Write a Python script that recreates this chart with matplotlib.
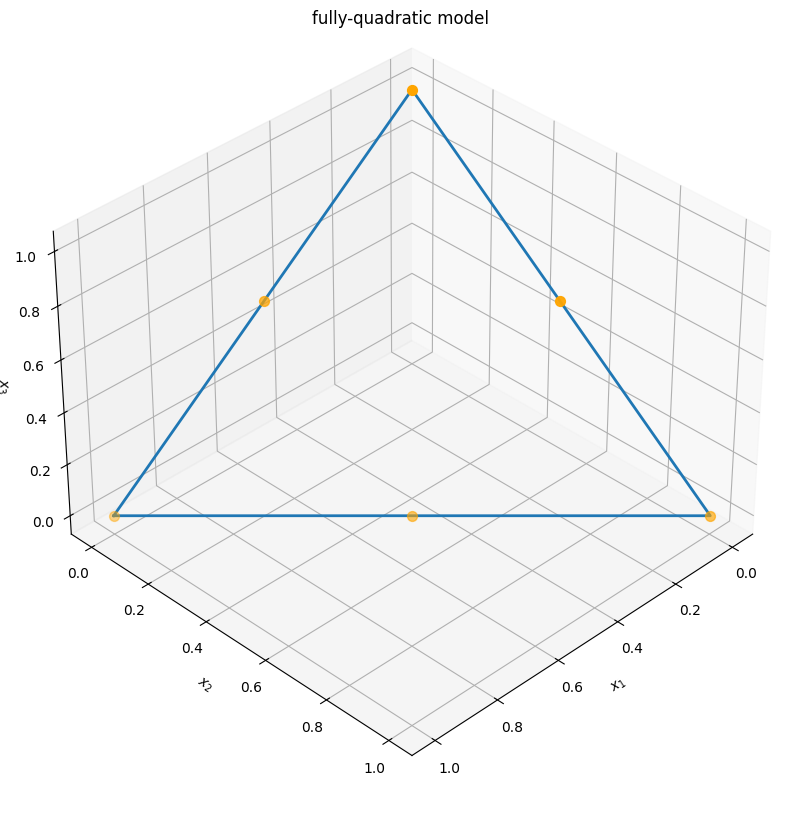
import matplotlib
matplotlib.use("Agg")
import matplotlib.pyplot as plt
import numpy as np

# simplex edge (closed loop)
edge_x1 = [1, 0, 0, 1]
edge_x2 = [0, 1, 0, 0]
edge_x3 = [0, 0, 1, 0]
# design points: vertices and edge midpoints
pts_x1 = [1, 0, 0, 0.5, 0.5, 0]
pts_x2 = [0, 1, 0, 0.5, 0, 0.5]
pts_x3 = [0, 0, 1, 0, 0.5, 0.5]
pt_alpha = [0.45, 0.65, 1.0, 0.6, 0.75, 0.95]

fig = plt.figure(figsize=(8, 8.27), dpi=100)
ax = fig.add_subplot(111, projection='3d')
ax.plot(edge_x1, edge_x2, edge_x3, color='tab:blue', lw=2)
for x, y, z, a in zip(pts_x1, pts_x2, pts_x3, pt_alpha):
    ax.scatter([x], [y], [z], color='orange', s=50, alpha=a, depthshade=False)
ax.set_xlabel('$x_1$')
ax.set_ylabel('$x_2$')
ax.set_zlabel('$x_3$')
fig.suptitle('fully-quadratic model', y=0.988, fontsize=12)
ax.view_init(elev=np.degrees(np.arcsin(1/np.sqrt(3))), azim=45)
plt.subplots_adjust(left=0.022, right=0.982, bottom=0.008, top=1.032)
fig.savefig('out.png', dpi=100)
